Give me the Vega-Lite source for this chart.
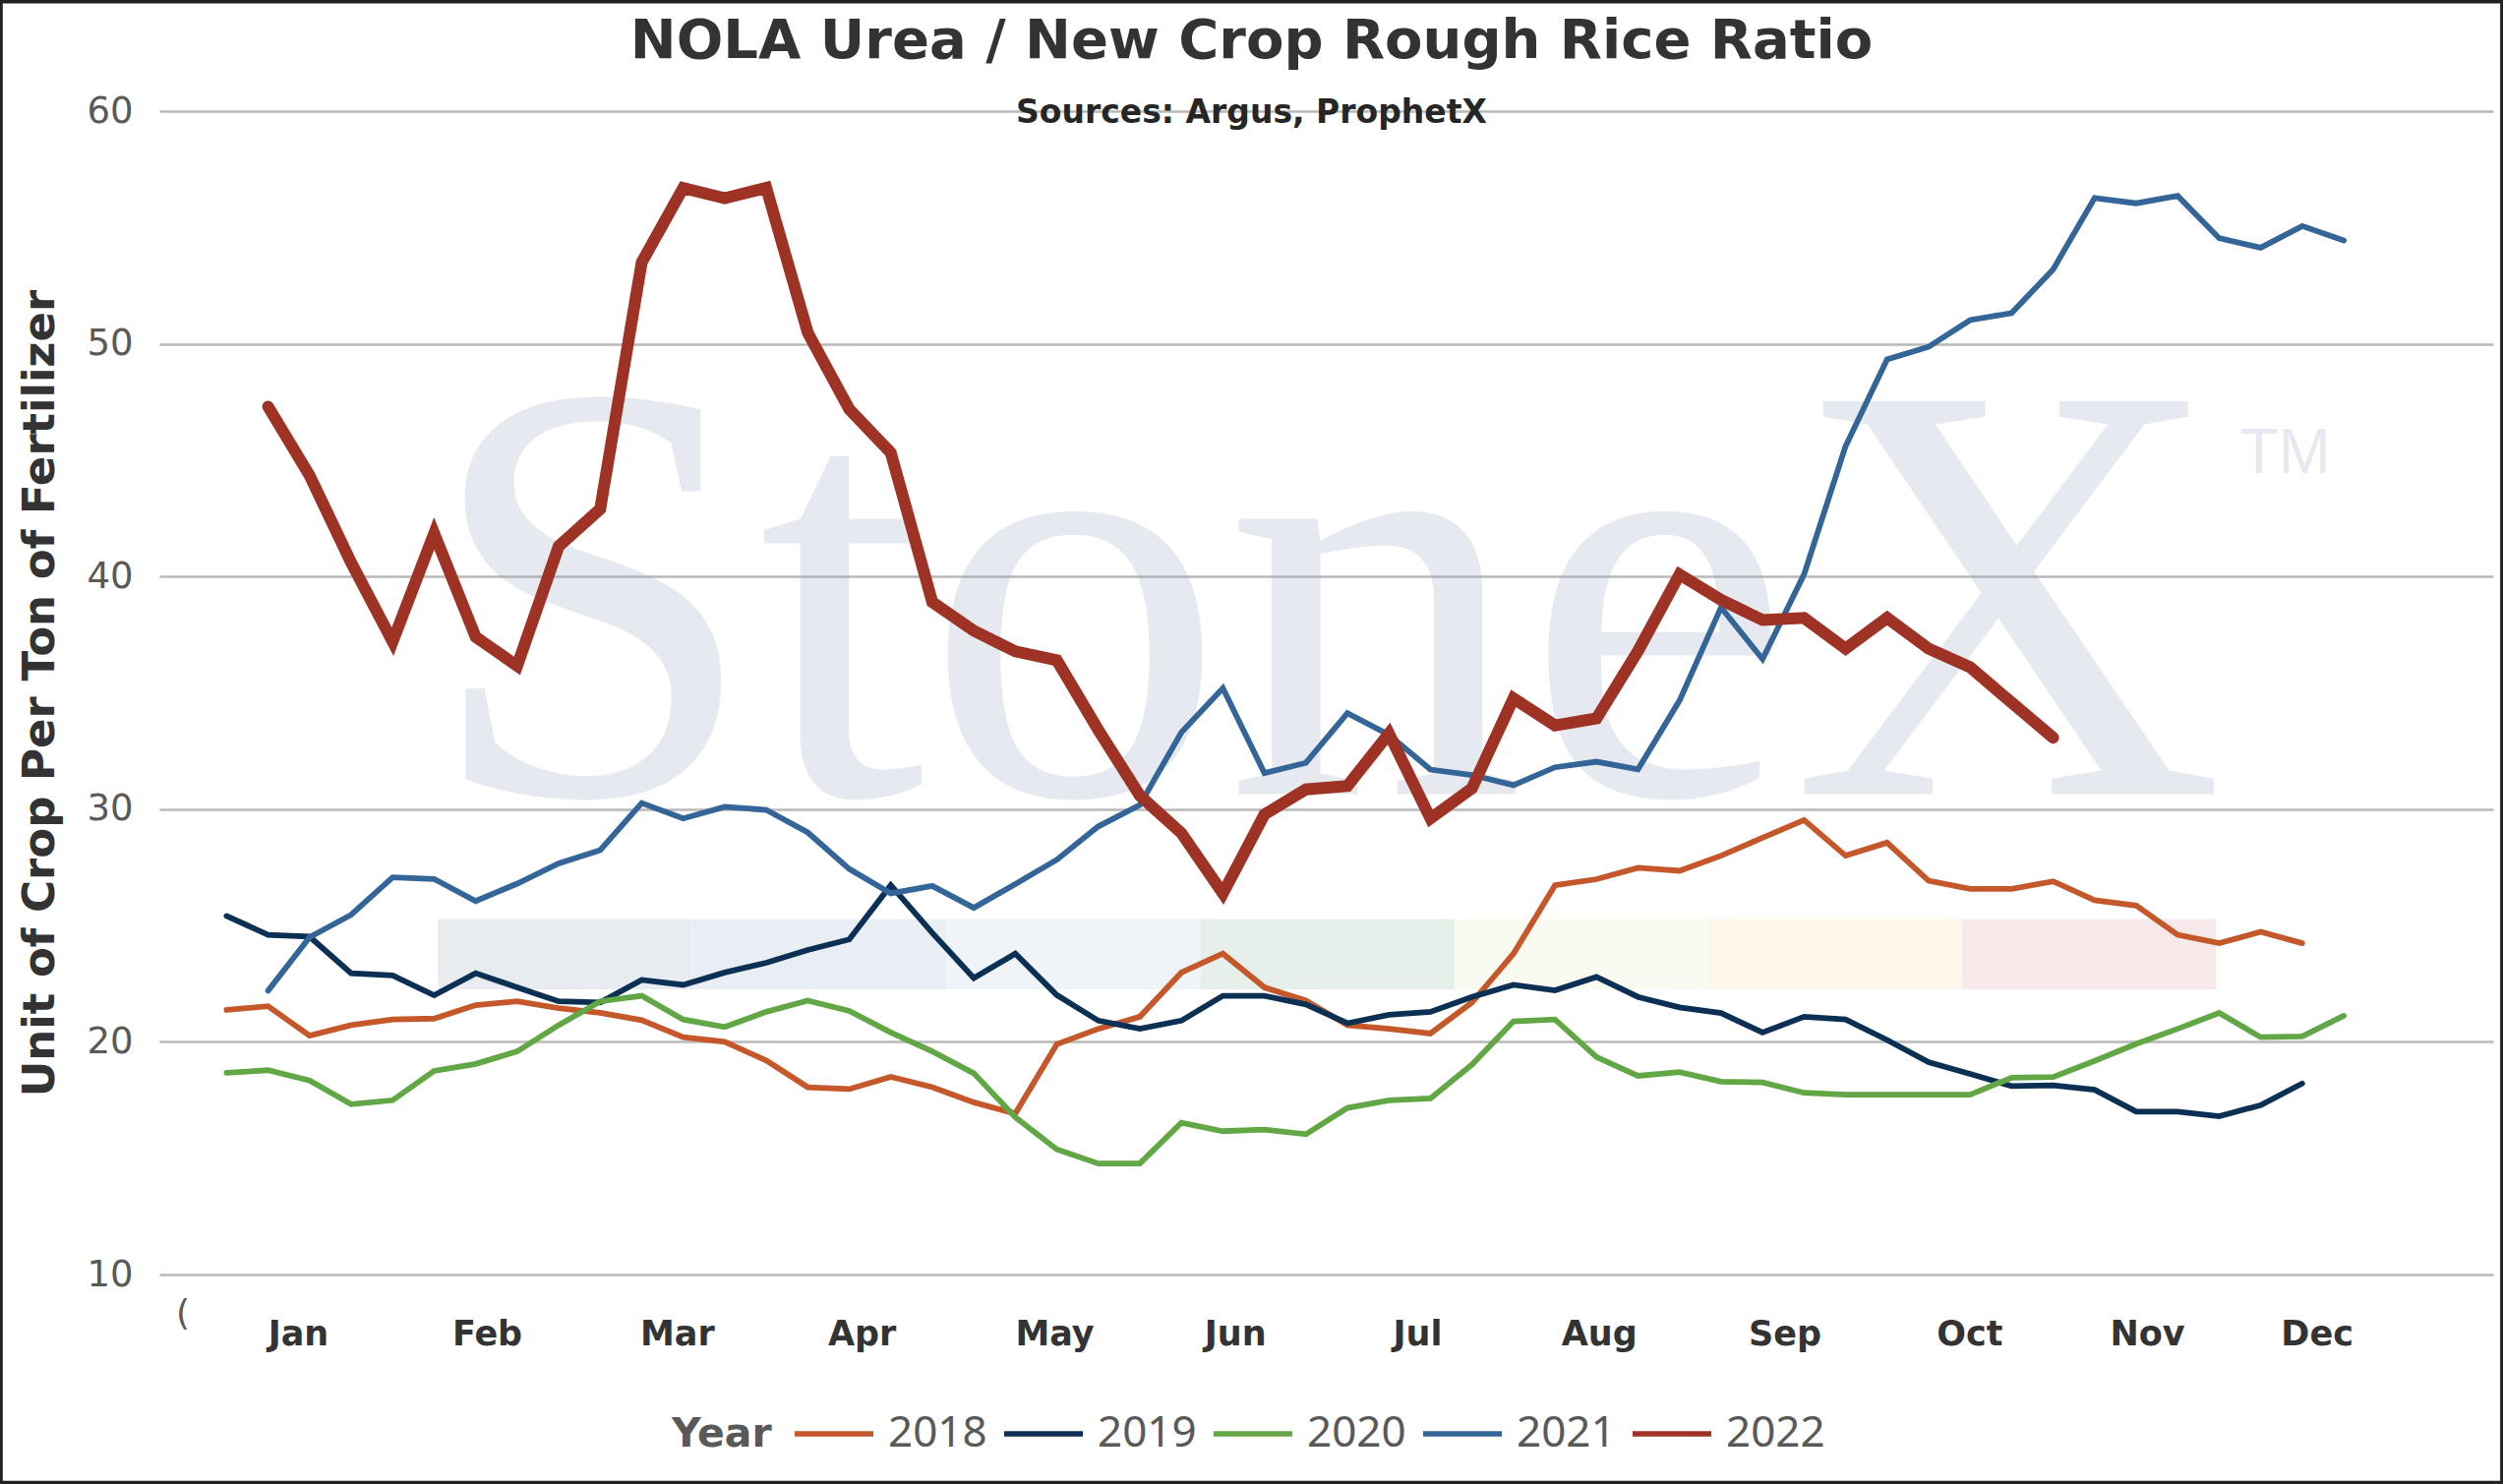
{
  "$schema": "https://vega.github.io/schema/vega-lite/v6.json",
  "description": "NOLA Urea / New Crop Rough Rice Ratio by week of year, 2018-2022",
  "width": 2373,
  "height": 1183,
  "autosize": {"type": "none"},
  "padding": {"left": 162, "top": 113, "right": 10, "bottom": 213},
  "background": "white",
  "title": {
    "text": "NOLA Urea / New Crop Rough Rice Ratio",
    "subtitle": "Sources: Argus, ProphetX",
    "anchor": "middle",
    "frame": "group",
    "dx": -76,
    "offset": -136,
    "font": "DejaVu Sans",
    "fontSize": 56,
    "fontWeight": "bold",
    "color": "#333333",
    "subtitleFont": "DejaVu Sans",
    "subtitleFontSize": 33,
    "subtitleFontWeight": "bold",
    "subtitleColor": "#262626",
    "subtitlePadding": 28
  },
  "layer": [
    {
      "data": {
        "values": [
          {"seg": "s1", "w": 6.09, "w2": 12.21},
          {"seg": "s2", "w": 12.21, "w2": 18.34},
          {"seg": "s3", "w": 18.34, "w2": 24.46},
          {"seg": "s4", "w": 24.46, "w2": 30.58},
          {"seg": "s5", "w": 30.58, "w2": 36.69},
          {"seg": "s6", "w": 36.69, "w2": 42.81},
          {"seg": "s7", "w": 42.81, "w2": 48.93}
        ]
      },
      "mark": {"type": "rect"},
      "encoding": {
        "x": {
          "field": "w",
          "type": "quantitative",
          "scale": {"domain": [-0.62, 55.6], "nice": false, "zero": false},
          "axis": {
            "values": [2.72, 7.27, 11.85, 16.3, 20.94, 25.29, 29.68, 34.06, 38.53, 42.98, 47.26, 51.35],
            "labelExpr": "['Jan','Feb','Mar','Apr','May','Jun','Jul','Aug','Sep','Oct','Nov','Dec'][round((datum.value - 2.72) / 4.42)]",
            "title": null,
            "ticks": false,
            "domain": false,
            "grid": false,
            "labelFont": "DejaVu Sans",
            "labelFontWeight": "bold",
            "labelFontSize": 35,
            "labelColor": "#333333",
            "labelPadding": 43,
            "labelFlush": false,
            "labelOverlap": false
          }
        },
        "x2": {"field": "w2"},
        "y": {
          "datum": 22.26,
          "type": "quantitative",
          "scale": {"domain": [10, 60], "nice": false, "zero": false},
          "axis": {
            "values": [10, 20, 30, 40, 50, 60],
            "title": "Unit of Crop Per Ton of Fertilizer",
            "ticks": false,
            "domain": false,
            "grid": true,
            "gridColor": "#b9b9b9",
            "gridWidth": 2.5,
            "labelFont": "DejaVu Sans",
            "labelFontSize": 37,
            "labelColor": "#595959",
            "labelPadding": 27,
            "titleFont": "DejaVu Sans",
            "titleFontSize": 45,
            "titleFontWeight": "bold",
            "titleColor": "#333333",
            "titlePadding": 24
          }
        },
        "y2": {"datum": 25.28},
        "fill": {
          "field": "seg",
          "type": "nominal",
          "scale": {
            "domain": ["s1", "s2", "s3", "s4", "s5", "s6", "s7"],
            "range": ["#e8ebf0", "#e9eef5", "#eff4f9", "#e6efe9", "#fafbf0", "#fdf6ea", "#f7e9ea"]
          },
          "legend": null
        }
      }
    },
    {
      "data": {"values": [{"t": "StoneX", "w": 27.45, "v": 30.65}]},
      "mark": {"type": "text", "font": "Liberation Serif", "fontSize": 610, "align": "center", "baseline": "alphabetic", "color": "#879bb9", "opacity": 0.2},
      "encoding": {
        "x": {"field": "w", "type": "quantitative", "title": null},
        "y": {"field": "v", "type": "quantitative", "title": "Unit of Crop Per Ton of Fertilizer"},
        "text": {"field": "t"}
      }
    },
    {
      "data": {"values": [{"t": "TM", "w": 49.5, "v": 44.45}]},
      "mark": {"type": "text", "font": "Liberation Sans", "fontSize": 64, "align": "left", "baseline": "alphabetic", "color": "#879bb9", "opacity": 0.2},
      "encoding": {
        "x": {"field": "w", "type": "quantitative", "title": null},
        "y": {"field": "v", "type": "quantitative", "title": "Unit of Crop Per Ton of Fertilizer"},
        "text": {"field": "t"}
      }
    },
    {
      "data": {"values": [{"t": "(", "w": -0.05, "v": 8.3}]},
      "mark": {"type": "text", "font": "DejaVu Sans", "fontSize": 36, "align": "center", "baseline": "middle", "color": "#595959"},
      "encoding": {
        "x": {"field": "w", "type": "quantitative", "title": null},
        "y": {"field": "v", "type": "quantitative", "title": "Unit of Crop Per Ton of Fertilizer"},
        "text": {"field": "t"}
      }
    },
    {
      "data": {"values": [{"w": -4.462, "w2": 55.84, "v": 1.006, "v2": 64.757}]},
      "mark": {"type": "rect", "filled": false, "stroke": "#222222", "strokeWidth": 6},
      "encoding": {
        "x": {"field": "w", "type": "quantitative", "title": null},
        "x2": {"field": "w2"},
        "y": {"field": "v", "type": "quantitative", "title": "Unit of Crop Per Ton of Fertilizer"},
        "y2": {"field": "v2"}
      }
    },
    {
      "data": {
        "values": [
          {"year": "2018", "w": 1, "v": 21.37}, {"year": "2018", "w": 2, "v": 21.53}, {"year": "2018", "w": 3, "v": 20.27},
          {"year": "2018", "w": 4, "v": 20.72}, {"year": "2018", "w": 5, "v": 20.96}, {"year": "2018", "w": 6, "v": 21.0},
          {"year": "2018", "w": 7, "v": 21.58}, {"year": "2018", "w": 8, "v": 21.74}, {"year": "2018", "w": 9, "v": 21.45},
          {"year": "2018", "w": 10, "v": 21.25}, {"year": "2018", "w": 11, "v": 20.93}, {"year": "2018", "w": 12, "v": 20.2},
          {"year": "2018", "w": 13, "v": 20.0}, {"year": "2018", "w": 14, "v": 19.2}, {"year": "2018", "w": 15, "v": 18.05},
          {"year": "2018", "w": 16, "v": 17.97}, {"year": "2018", "w": 17, "v": 18.5}, {"year": "2018", "w": 18, "v": 18.05},
          {"year": "2018", "w": 19, "v": 17.4}, {"year": "2018", "w": 20, "v": 16.92}, {"year": "2018", "w": 21, "v": 19.9},
          {"year": "2018", "w": 22, "v": 20.56}, {"year": "2018", "w": 23, "v": 21.08}, {"year": "2018", "w": 24, "v": 22.98},
          {"year": "2018", "w": 25, "v": 23.79}, {"year": "2018", "w": 26, "v": 22.34}, {"year": "2018", "w": 27, "v": 21.77},
          {"year": "2018", "w": 28, "v": 20.72}, {"year": "2018", "w": 29, "v": 20.56}, {"year": "2018", "w": 30, "v": 20.36},
          {"year": "2018", "w": 31, "v": 21.69}, {"year": "2018", "w": 32, "v": 23.79}, {"year": "2018", "w": 33, "v": 26.73},
          {"year": "2018", "w": 34, "v": 26.99}, {"year": "2018", "w": 35, "v": 27.48}, {"year": "2018", "w": 36, "v": 27.35},
          {"year": "2018", "w": 37, "v": 28.0}, {"year": "2018", "w": 38, "v": 28.77}, {"year": "2018", "w": 39, "v": 29.53},
          {"year": "2018", "w": 40, "v": 28.0}, {"year": "2018", "w": 41, "v": 28.56}, {"year": "2018", "w": 42, "v": 26.92},
          {"year": "2018", "w": 43, "v": 26.57}, {"year": "2018", "w": 44, "v": 26.57}, {"year": "2018", "w": 45, "v": 26.9},
          {"year": "2018", "w": 46, "v": 26.09}, {"year": "2018", "w": 47, "v": 25.86}, {"year": "2018", "w": 48, "v": 24.6},
          {"year": "2018", "w": 49, "v": 24.24}, {"year": "2018", "w": 50, "v": 24.73}, {"year": "2018", "w": 51, "v": 24.24},

          {"year": "2019", "w": 1, "v": 25.41}, {"year": "2019", "w": 2, "v": 24.6}, {"year": "2019", "w": 3, "v": 24.52},
          {"year": "2019", "w": 4, "v": 22.95}, {"year": "2019", "w": 5, "v": 22.85}, {"year": "2019", "w": 6, "v": 22.0},
          {"year": "2019", "w": 7, "v": 22.95}, {"year": "2019", "w": 8, "v": 22.34}, {"year": "2019", "w": 9, "v": 21.74},
          {"year": "2019", "w": 10, "v": 21.69}, {"year": "2019", "w": 11, "v": 22.66}, {"year": "2019", "w": 12, "v": 22.45},
          {"year": "2019", "w": 13, "v": 22.98}, {"year": "2019", "w": 14, "v": 23.4}, {"year": "2019", "w": 15, "v": 23.95},
          {"year": "2019", "w": 16, "v": 24.4}, {"year": "2019", "w": 17, "v": 26.73}, {"year": "2019", "w": 18, "v": 24.68},
          {"year": "2019", "w": 19, "v": 22.74}, {"year": "2019", "w": 20, "v": 23.79}, {"year": "2019", "w": 21, "v": 22.01},
          {"year": "2019", "w": 22, "v": 20.91}, {"year": "2019", "w": 23, "v": 20.56}, {"year": "2019", "w": 24, "v": 20.91},
          {"year": "2019", "w": 25, "v": 21.98}, {"year": "2019", "w": 26, "v": 21.98}, {"year": "2019", "w": 27, "v": 21.61},
          {"year": "2019", "w": 28, "v": 20.8}, {"year": "2019", "w": 29, "v": 21.16}, {"year": "2019", "w": 30, "v": 21.29},
          {"year": "2019", "w": 31, "v": 21.93}, {"year": "2019", "w": 32, "v": 22.45}, {"year": "2019", "w": 33, "v": 22.21},
          {"year": "2019", "w": 34, "v": 22.79}, {"year": "2019", "w": 35, "v": 21.93}, {"year": "2019", "w": 36, "v": 21.48},
          {"year": "2019", "w": 37, "v": 21.24}, {"year": "2019", "w": 38, "v": 20.4}, {"year": "2019", "w": 39, "v": 21.08},
          {"year": "2019", "w": 40, "v": 20.96}, {"year": "2019", "w": 41, "v": 20.08}, {"year": "2019", "w": 42, "v": 19.13},
          {"year": "2019", "w": 43, "v": 18.62}, {"year": "2019", "w": 44, "v": 18.1}, {"year": "2019", "w": 45, "v": 18.13},
          {"year": "2019", "w": 46, "v": 17.94}, {"year": "2019", "w": 47, "v": 17.0}, {"year": "2019", "w": 48, "v": 17.0},
          {"year": "2019", "w": 49, "v": 16.8}, {"year": "2019", "w": 50, "v": 17.28}, {"year": "2019", "w": 51, "v": 18.21},

          {"year": "2020", "w": 1, "v": 18.67}, {"year": "2020", "w": 2, "v": 18.78}, {"year": "2020", "w": 3, "v": 18.34},
          {"year": "2020", "w": 4, "v": 17.32}, {"year": "2020", "w": 5, "v": 17.49}, {"year": "2020", "w": 6, "v": 18.75},
          {"year": "2020", "w": 7, "v": 19.05}, {"year": "2020", "w": 8, "v": 19.59}, {"year": "2020", "w": 9, "v": 20.72},
          {"year": "2020", "w": 10, "v": 21.74}, {"year": "2020", "w": 11, "v": 21.98}, {"year": "2020", "w": 12, "v": 20.96},
          {"year": "2020", "w": 13, "v": 20.64}, {"year": "2020", "w": 14, "v": 21.29}, {"year": "2020", "w": 15, "v": 21.77},
          {"year": "2020", "w": 16, "v": 21.33}, {"year": "2020", "w": 17, "v": 20.4}, {"year": "2020", "w": 18, "v": 19.59},
          {"year": "2020", "w": 19, "v": 18.65}, {"year": "2020", "w": 20, "v": 16.76}, {"year": "2020", "w": 21, "v": 15.38},
          {"year": "2020", "w": 22, "v": 14.77}, {"year": "2020", "w": 23, "v": 14.77}, {"year": "2020", "w": 24, "v": 16.52},
          {"year": "2020", "w": 25, "v": 16.16}, {"year": "2020", "w": 26, "v": 16.23}, {"year": "2020", "w": 27, "v": 16.03},
          {"year": "2020", "w": 28, "v": 17.16}, {"year": "2020", "w": 29, "v": 17.49}, {"year": "2020", "w": 30, "v": 17.57},
          {"year": "2020", "w": 31, "v": 19.02}, {"year": "2020", "w": 32, "v": 20.88}, {"year": "2020", "w": 33, "v": 20.96},
          {"year": "2020", "w": 34, "v": 19.35}, {"year": "2020", "w": 35, "v": 18.54}, {"year": "2020", "w": 36, "v": 18.7},
          {"year": "2020", "w": 37, "v": 18.29}, {"year": "2020", "w": 38, "v": 18.26}, {"year": "2020", "w": 39, "v": 17.81},
          {"year": "2020", "w": 40, "v": 17.73}, {"year": "2020", "w": 41, "v": 17.73}, {"year": "2020", "w": 42, "v": 17.73},
          {"year": "2020", "w": 43, "v": 17.73}, {"year": "2020", "w": 44, "v": 18.46}, {"year": "2020", "w": 45, "v": 18.49},
          {"year": "2020", "w": 46, "v": 19.18}, {"year": "2020", "w": 47, "v": 19.91}, {"year": "2020", "w": 48, "v": 20.56},
          {"year": "2020", "w": 49, "v": 21.24}, {"year": "2020", "w": 50, "v": 20.2}, {"year": "2020", "w": 51, "v": 20.23},
          {"year": "2020", "w": 52, "v": 21.12},

          {"year": "2021", "w": 2, "v": 22.2}, {"year": "2021", "w": 3, "v": 24.5}, {"year": "2021", "w": 4, "v": 25.46},
          {"year": "2021", "w": 5, "v": 27.07}, {"year": "2021", "w": 6, "v": 27.0}, {"year": "2021", "w": 7, "v": 26.05},
          {"year": "2021", "w": 8, "v": 26.8}, {"year": "2021", "w": 9, "v": 27.67}, {"year": "2021", "w": 10, "v": 28.24},
          {"year": "2021", "w": 11, "v": 30.26}, {"year": "2021", "w": 12, "v": 29.6}, {"year": "2021", "w": 13, "v": 30.1},
          {"year": "2021", "w": 14, "v": 29.97}, {"year": "2021", "w": 15, "v": 29.0}, {"year": "2021", "w": 16, "v": 27.43},
          {"year": "2021", "w": 17, "v": 26.38}, {"year": "2021", "w": 18, "v": 26.7}, {"year": "2021", "w": 19, "v": 25.76},
          {"year": "2021", "w": 20, "v": 26.78}, {"year": "2021", "w": 21, "v": 27.83}, {"year": "2021", "w": 22, "v": 29.26},
          {"year": "2021", "w": 23, "v": 30.18}, {"year": "2021", "w": 24, "v": 33.3}, {"year": "2021", "w": 25, "v": 35.2},
          {"year": "2021", "w": 26, "v": 31.55}, {"year": "2021", "w": 27, "v": 31.99}, {"year": "2021", "w": 28, "v": 34.13},
          {"year": "2021", "w": 29, "v": 33.2}, {"year": "2021", "w": 30, "v": 31.7}, {"year": "2021", "w": 31, "v": 31.47},
          {"year": "2021", "w": 32, "v": 31.03}, {"year": "2021", "w": 33, "v": 31.8}, {"year": "2021", "w": 34, "v": 32.04},
          {"year": "2021", "w": 35, "v": 31.71}, {"year": "2021", "w": 36, "v": 34.67}, {"year": "2021", "w": 37, "v": 38.67},
          {"year": "2021", "w": 38, "v": 36.45}, {"year": "2021", "w": 39, "v": 40.09}, {"year": "2021", "w": 40, "v": 45.6},
          {"year": "2021", "w": 41, "v": 49.33}, {"year": "2021", "w": 42, "v": 49.87}, {"year": "2021", "w": 43, "v": 51.02},
          {"year": "2021", "w": 44, "v": 51.32}, {"year": "2021", "w": 45, "v": 53.2}, {"year": "2021", "w": 46, "v": 56.27},
          {"year": "2021", "w": 47, "v": 56.04}, {"year": "2021", "w": 48, "v": 56.36}, {"year": "2021", "w": 49, "v": 54.54},
          {"year": "2021", "w": 50, "v": 54.13}, {"year": "2021", "w": 51, "v": 55.06}, {"year": "2021", "w": 52, "v": 54.44},

          {"year": "2022", "w": 2, "v": 47.3}, {"year": "2022", "w": 3, "v": 44.34}, {"year": "2022", "w": 4, "v": 40.6},
          {"year": "2022", "w": 5, "v": 37.2}, {"year": "2022", "w": 6, "v": 41.85}, {"year": "2022", "w": 7, "v": 37.4},
          {"year": "2022", "w": 8, "v": 36.16}, {"year": "2022", "w": 9, "v": 41.3}, {"year": "2022", "w": 10, "v": 42.9},
          {"year": "2022", "w": 11, "v": 53.5}, {"year": "2022", "w": 12, "v": 56.7}, {"year": "2022", "w": 13, "v": 56.26},
          {"year": "2022", "w": 14, "v": 56.7}, {"year": "2022", "w": 15, "v": 50.48}, {"year": "2022", "w": 16, "v": 47.19},
          {"year": "2022", "w": 17, "v": 45.32}, {"year": "2022", "w": 18, "v": 38.9}, {"year": "2022", "w": 19, "v": 37.67},
          {"year": "2022", "w": 20, "v": 36.78}, {"year": "2022", "w": 21, "v": 36.4}, {"year": "2022", "w": 22, "v": 33.4},
          {"year": "2022", "w": 23, "v": 30.58}, {"year": "2022", "w": 24, "v": 28.97}, {"year": "2022", "w": 25, "v": 26.38},
          {"year": "2022", "w": 26, "v": 29.77}, {"year": "2022", "w": 27, "v": 30.85}, {"year": "2022", "w": 28, "v": 31.0},
          {"year": "2022", "w": 29, "v": 33.25}, {"year": "2022", "w": 30, "v": 29.6}, {"year": "2022", "w": 31, "v": 30.9},
          {"year": "2022", "w": 32, "v": 34.76}, {"year": "2022", "w": 33, "v": 33.6}, {"year": "2022", "w": 34, "v": 33.9},
          {"year": "2022", "w": 35, "v": 36.8}, {"year": "2022", "w": 36, "v": 40.09}, {"year": "2022", "w": 37, "v": 39.0},
          {"year": "2022", "w": 38, "v": 38.13}, {"year": "2022", "w": 39, "v": 38.22}, {"year": "2022", "w": 40, "v": 36.9},
          {"year": "2022", "w": 41, "v": 38.22}, {"year": "2022", "w": 42, "v": 36.9}, {"year": "2022", "w": 43, "v": 36.1},
          {"year": "2022", "w": 44, "v": 34.58}, {"year": "2022", "w": 45, "v": 33.07}
        ]
      },
      "mark": {"type": "line", "strokeCap": "round"},
      "encoding": {
        "x": {"field": "w", "type": "quantitative", "title": null},
        "y": {"field": "v", "type": "quantitative", "title": "Unit of Crop Per Ton of Fertilizer"},
        "color": {
          "field": "year",
          "type": "nominal",
          "scale": {
            "domain": ["2018", "2019", "2020", "2021", "2022"],
            "range": ["#c4582a", "#0b3054", "#62a745", "#336598", "#9e3224"]
          },
          "legend": {
            "title": "Year",
            "orient": "none",
            "legendX": 521,
            "legendY": 1302,
            "direction": "horizontal",
            "titleOrient": "left",
            "titleAnchor": "end",
            "titleBaseline": "bottom",
            "titleFont": "DejaVu Sans",
            "titleFontSize": 41,
            "titleFontWeight": "bold",
            "titleColor": "#595959",
            "titlePadding": 20,
            "symbolType": "stroke",
            "symbolSize": 6400,
            "symbolStrokeWidth": 5.3,
            "labelFont": "Noto Sans",
            "labelFontSize": 44,
            "labelColor": "#595959",
            "labelOffset": 12,
            "columnPadding": 6
          }
        },
        "strokeWidth": {
          "condition": {"test": "datum.year === '2022'", "value": 12},
          "value": 5.8
        }
      }
    }
  ],
  "config": {
    "view": {"stroke": null}
  }
}
